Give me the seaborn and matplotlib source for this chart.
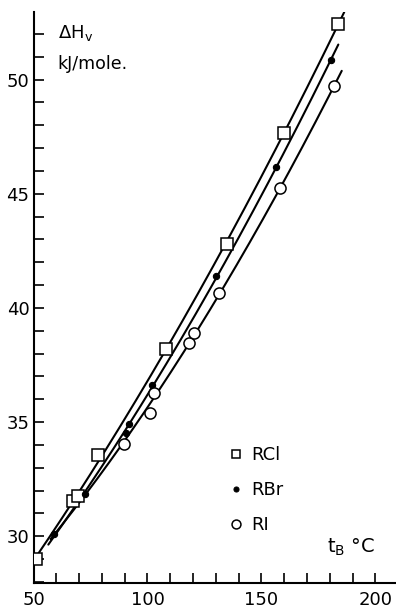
import numpy as np
import matplotlib
matplotlib.use("Agg")
import matplotlib.pyplot as plt
from matplotlib.lines import Line2D
from matplotlib.ticker import MultipleLocator
import seaborn as sns

# values: boiling temperature (°C) vs heat of vaporization (kJ/mole)
rcl_t = [51, 67.5, 69.5, 78.5, 108, 135, 160, 183.5]
rcl_h = [29.0, 31.55, 31.75, 33.55, 38.2, 42.8, 47.65, 52.45]
rbr_t = [59, 72.5, 90.5, 92, 102, 130, 156.5, 180.5]
rbr_h = [30.1, 31.85, 34.5, 34.9, 36.6, 41.4, 46.15, 50.85]
ri_t = [89.5, 101, 103, 118, 120.5, 131.5, 158, 182]
ri_h = [34.05, 35.4, 36.25, 38.45, 38.9, 40.65, 45.25, 49.7]
curve_span = {"RCl": (50.5, 186.3), "RBr": (56.5, 183.7), "RI": (57.5, 185.2)}

sns.set_style("ticks", {"axes.edgecolor": "black", "text.color": "black",
                        "xtick.color": "black", "ytick.color": "black"})
plt.rcParams["font.family"] = ["DejaVu Sans"]
plt.rcParams["mathtext.fontset"] = "dejavusans"

fig = plt.figure(figsize=(3.96, 6.10), dpi=100)
ax = fig.add_axes([0.0846, 0.0443, 0.9154, 0.9357])

series = [
    ("RCl", rcl_t, rcl_h, dict(marker="s", ms=8, mfc="white", mec="black", mew=1.1)),
    ("RBr", rbr_t, rbr_h, dict(marker="o", ms=4.5, mfc="black", mec="black", mew=0.8)),
    ("RI", ri_t, ri_h, dict(marker="o", ms=8, mfc="white", mec="black", mew=1.1)),
]

handles = []
for name, t, h, mk in series:
    # the drawn curves meet at the low end, so the RI curve is fitted together
    # with the two lowest RBr points it runs through
    ft, fh = (rbr_t[:2] + t, rbr_h[:2] + h) if name == "RI" else (t, h)
    coef = np.polyfit(ft, fh, 2)
    lo, hi = curve_span[name]
    xs = np.linspace(lo, hi, 200)
    sns.lineplot(x=xs, y=np.polyval(coef, xs), ax=ax, color="black", lw=1.5, zorder=2)
    ax.plot(t, h, ls="none", zorder=3, **mk)
    handles.append(Line2D([], [], ls="none", label=name, **{**mk, "ms": mk["ms"] * 0.8}))

ax.set_xlim(50, 209)
ax.set_ylim(27.95, 52.95)
ax.xaxis.set_major_locator(MultipleLocator(50))
ax.xaxis.set_minor_locator(MultipleLocator(10))
ax.yaxis.set_major_locator(MultipleLocator(5))
ax.yaxis.set_minor_locator(MultipleLocator(1))
ax.tick_params(which="both", direction="in", length=7, width=1.2, labelsize=13)
ax.tick_params(axis="x", pad=6)
ax.tick_params(axis="y", pad=3)
sns.despine(ax=ax)
for s in ("left", "bottom"):
    ax.spines[s].set_linewidth(1.5)
ax.set_xlabel("")
ax.set_ylabel("")

ax.text(0.068, 0.963, r"ΔH$_\mathsf{v}$", transform=ax.transAxes, fontsize=13, va="center")
ax.text(0.065, 0.91, "kJ/mole.", transform=ax.transAxes, fontsize=12.5, va="center")
ax.text(0.81, 0.063, r"t$_\mathsf{B}$ °C", transform=ax.transAxes, fontsize=14, va="center")

ax.legend(handles=handles, loc="upper left", bbox_to_anchor=(0.545, 0.24), frameon=False,
          fontsize=13, handlelength=0.6, handletextpad=0.5, labelspacing=0.95,
          borderpad=0, borderaxespad=0)

fig.savefig("out.png", dpi=100)
